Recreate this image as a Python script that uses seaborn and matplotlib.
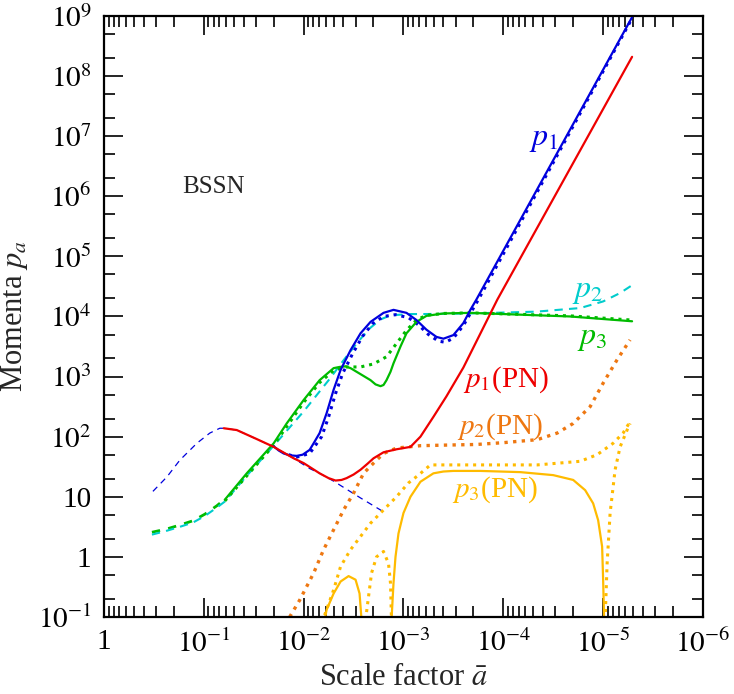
import numpy as np
import pandas as pd
import seaborn as sns
import matplotlib.pyplot as plt
from matplotlib.ticker import LogLocator, NullFormatter

# values, stored as log10(a) and log10(p)
# p1 (BSSN), solid blue
p1_loga = [-1.70, -1.75, -1.80, -1.86, -1.93, -1.99, -2.06, -2.10, -2.16, -2.23, -2.30, -2.37,
           -2.47, -2.57, -2.67, -2.80, -2.90, -3.03, -3.13, -3.23, -3.33, -3.40, -3.50, -3.60,
           -3.67, -3.73, -5.29]
p1_logp = [1.84, 1.77, 1.72, 1.69, 1.68, 1.70, 1.78, 1.89, 2.06, 2.39, 2.78, 3.11,
           3.44, 3.72, 3.91, 4.06, 4.11, 4.06, 3.94, 3.78, 3.66, 3.63, 3.69, 3.89,
           4.11, 4.28, 8.98]
# p1 second run, dotted blue
p1d_loga = [-1.85, -1.93, -2.06, -2.18, -2.25, -2.32, -2.39, -2.49, -2.59, -2.69, -2.80, -2.92,
            -3.05, -3.15, -3.25, -3.35, -3.42, -3.50, -3.60, -3.68, -3.75, -5.29]
p1d_logp = [1.70, 1.66, 1.72, 2.00, 2.33, 2.72, 3.05, 3.38, 3.67, 3.88, 4.00, 4.03,
            3.98, 3.86, 3.70, 3.59, 3.57, 3.64, 3.85, 4.08, 4.28, 8.96]
# thin dashed blue
p1i_loga = [-0.49, -0.63, -0.76, -0.93, -1.06, -1.16, -1.20, -1.33, -1.53, -1.70, -1.90,
            -2.06, -2.16, -2.30, -2.57, -2.82]
p1i_logp = [1.09, 1.33, 1.61, 1.89, 2.06, 2.14, 2.14, 2.11, 1.96, 1.83, 1.64,
            1.47, 1.39, 1.26, 0.98, 0.73]
# p1 (PN), solid red
p1pn_loga = [-1.20, -1.33, -1.53, -1.70, -1.90, -2.00, -2.16, -2.25, -2.32, -2.38, -2.43, -2.50,
             -2.57, -2.64, -2.70, -2.80, -2.93, -3.07, -3.17, -3.30, -3.43, -3.60, -3.94, -5.29]
p1pn_logp = [2.14, 2.11, 1.96, 1.83, 1.64, 1.56, 1.39, 1.31, 1.27, 1.28, 1.31, 1.37,
             1.45, 1.55, 1.64, 1.74, 1.79, 1.83, 2.00, 2.33, 2.67, 3.15, 4.28, 8.32]
# p2, dashed cyan
p2_loga = [-0.48, -0.62, -0.76, -0.89, -1.01, -1.13, -1.21, -1.43, -1.70, -2.00, -2.26, -2.39,
           -2.53, -2.66, -2.77, -2.87, -3.07, -3.20, -3.67, -4.33, -4.77, -5.00, -5.17, -5.29]
p2_logp = [0.37, 0.43, 0.50, 0.57, 0.68, 0.82, 0.92, 1.35, 1.85, 2.42, 2.96, 3.25,
           3.55, 3.80, 3.95, 4.02, 4.04, 4.04, 4.05, 4.08, 4.14, 4.25, 4.39, 4.52]
# p3 early part (dashed green) and solid green
p3e_loga = [-0.48, -0.62, -0.76, -0.89, -1.01, -1.13, -1.21]
p3e_logp = [0.41, 0.46, 0.53, 0.60, 0.71, 0.85, 0.96]
p3_loga = [-1.21, -1.43, -1.70, -1.83, -2.00, -2.16, -2.30, -2.36, -2.42, -2.47, -2.53, -2.60,
           -2.67, -2.72, -2.77, -2.80, -2.83, -2.87, -2.90, -2.97, -3.03, -3.13, -3.23, -3.40,
           -3.67, -4.67, -5.29]
p3_logp = [0.95, 1.39, 1.89, 2.22, 2.61, 2.94, 3.14, 3.16, 3.17, 3.14, 3.08, 3.01,
           2.94, 2.87, 2.84, 2.86, 2.94, 3.08, 3.22, 3.50, 3.72, 3.91, 4.01, 4.05,
           4.06, 4.00, 3.92]
# p3 second run, dotted green
p3d_loga = [-1.21, -1.70, -2.00, -2.16, -2.30, -2.42, -2.57, -2.70, -2.83, -2.93, -3.03, -3.13,
            -3.23, -3.40, -3.67, -4.67, -5.29]
p3d_logp = [0.93, 1.86, 2.57, 2.90, 3.10, 3.16, 3.16, 3.21, 3.33, 3.55, 3.77, 3.94,
            4.02, 4.05, 4.06, 4.01, 3.94]
# p2 (PN), dotted orange
p2pn_loga = [-1.86, -1.96, -2.10, -2.20, -2.30, -2.40, -2.50, -2.60, -2.70, -2.80, -2.93, -3.17,
             -3.43, -3.73, -4.00, -4.34, -4.54, -4.70, -4.87, -5.00, -5.14, -5.27]
p2pn_logp = [-1.00, -0.72, -0.27, 0.12, 0.45, 0.78, 1.06, 1.39, 1.56, 1.72, 1.81, 1.85,
             1.86, 1.87, 1.90, 1.95, 2.06, 2.22, 2.50, 2.89, 3.28, 3.61]
# p3 (PN), solid yellow (two branches)
p3pn_a_loga = [-2.21, -2.23, -2.30, -2.37, -2.45, -2.52, -2.56, -2.58]
p3pn_a_logp = [-1.05, -0.88, -0.61, -0.41, -0.32, -0.38, -0.61, -1.05]
p3pn_b_loga = [-2.88, -2.90, -2.92, -2.95, -3.00, -3.07, -3.17, -3.30, -3.40, -3.50, -3.77, -4.17,
               -4.50, -4.70, -4.82, -4.90, -4.95, -4.99, -5.00, -5.01]
p3pn_b_logp = [-1.05, -0.44, 0.00, 0.39, 0.73, 1.00, 1.25, 1.39, 1.42, 1.43, 1.43, 1.41,
               1.36, 1.28, 1.11, 0.89, 0.61, 0.17, -0.38, -1.05]
# p3 (PN) second run, dotted yellow (three branches)
p3pnd_a_loga = [-2.21, -2.30, -2.37, -2.47, -2.57, -2.67, -2.80, -2.93, -3.05, -3.15, -3.27,
                -3.77, -4.34, -4.77, -4.94, -5.10, -5.20, -5.27]
p3pnd_a_logp = [-0.97, -0.55, -0.16, 0.12, 0.34, 0.56, 0.78, 1.00, 1.23, 1.36, 1.53,
                1.53, 1.53, 1.59, 1.70, 1.89, 2.06, 2.25]
p3pnd_b_loga = [-2.62, -2.65, -2.68, -2.73, -2.80, -2.85, -2.87, -2.88]
p3pnd_b_logp = [-1.05, -0.66, -0.27, 0.00, 0.09, -0.11, -0.44, -1.05]
p3pnd_c_loga = [-5.02, -5.04, -5.07, -5.12, -5.17, -5.24, -5.27]
p3pnd_c_logp = [-1.05, -0.11, 0.73, 1.45, 1.83, 2.11, 2.22]

xtick_vals = [1, 1e-1, 1e-2, 1e-3, 1e-4, 1e-5, 1e-6]
xtick_labels = ["1", r"$10^{-1}$", r"$10^{-2}$", r"$10^{-3}$", r"$10^{-4}$", r"$10^{-5}$", r"$10^{-6}$"]
ytick_vals = [1e-1, 1, 10, 1e2, 1e3, 1e4, 1e5, 1e6, 1e7, 1e8, 1e9]
ytick_labels = [r"$10^{-1}$", "1", "10", r"$10^{2}$", r"$10^{3}$", r"$10^{4}$", r"$10^{5}$",
                r"$10^{6}$", r"$10^{7}$", r"$10^{8}$", r"$10^{9}$"]

BLUE = "#0000dd"
RED = "#ee0000"
GREEN = "#00bb00"
CYAN = "#00cccc"
ORANGE = "#ee7711"
YELLOW = "#ffbb00"
DOT = (0, (1, 1.6))

sns.set_theme(style="ticks")
plt.rcParams["font.family"] = ["Liberation Serif", "DejaVu Serif"]
plt.rcParams["mathtext.fontset"] = "stix"
plt.rcParams["xtick.direction"] = "in"
plt.rcParams["ytick.direction"] = "in"


def draw(ax, loga, logp, color, ls="-", lw=1.5):
    df = pd.DataFrame({"a": 10 ** np.array(loga), "p": 10 ** np.array(logp)})
    sns.lineplot(data=df, x="a", y="p", ax=ax, color=color, linestyle=ls,
                 linewidth=lw, sort=False, estimator=None)


fig = plt.figure(figsize=(7.34, 6.94), dpi=100)
ax = fig.add_axes([0.1417, 0.111, 0.816, 0.866])
ax.set_xscale("log")
ax.set_yscale("log")

draw(ax, p1i_loga, p1i_logp, BLUE, ls=(0, (5, 4)), lw=0.9)
draw(ax, p3e_loga, p3e_logp, GREEN, ls=(0, (3, 3)), lw=2.0)
draw(ax, p2_loga, p2_logp, CYAN, ls=(0, (4, 3)), lw=1.5)
draw(ax, p3d_loga, p3d_logp, GREEN, ls=DOT, lw=2.2)
draw(ax, p1d_loga, p1d_logp, BLUE, ls=DOT, lw=2.2)
draw(ax, p3_loga, p3_logp, GREEN, lw=1.6)
draw(ax, p1_loga, p1_logp, BLUE, lw=1.6)
draw(ax, p2pn_loga, p2pn_logp, ORANGE, ls=DOT, lw=2.4)
draw(ax, p3pnd_a_loga, p3pnd_a_logp, YELLOW, ls=DOT, lw=2.2)
draw(ax, p3pnd_b_loga, p3pnd_b_logp, YELLOW, ls=DOT, lw=2.2)
draw(ax, p3pnd_c_loga, p3pnd_c_logp, YELLOW, ls=DOT, lw=2.2)
draw(ax, p3pn_a_loga, p3pn_a_logp, YELLOW, lw=1.6)
draw(ax, p3pn_b_loga, p3pn_b_logp, YELLOW, lw=1.6)
draw(ax, p1pn_loga, p1pn_logp, RED, lw=1.6)

ax.set_xlim(1, 1e-6)
ax.set_ylim(1e-1, 1e9)

ax.set_xticks(xtick_vals)
ax.set_xticklabels(xtick_labels)
ax.set_yticks(ytick_vals)
ax.set_yticklabels(ytick_labels)
ax.xaxis.set_minor_locator(LogLocator(base=10, subs=np.arange(2, 10), numticks=100))
ax.yaxis.set_minor_locator(LogLocator(base=10, subs=[2, 5], numticks=100))
ax.xaxis.set_minor_formatter(NullFormatter())
ax.yaxis.set_minor_formatter(NullFormatter())
ax.tick_params(which="both", top=True, right=True, colors="black", width=1.2)
ax.tick_params(which="major", length=14, labelsize=21, pad=9)
ax.tick_params(which="minor", length=8)
for s in ax.spines.values():
    s.set_linewidth(1.6)
    s.set_color("black")

ax.set_xlabel(r"Scale factor $\bar{a}$", fontsize=22, labelpad=4)
ax.set_ylabel(r"Momenta $p_a$", fontsize=22, labelpad=6)

ax.text(10 ** -1.10, 10 ** 6.15, "BSSN", fontsize=18, ha="center", va="center")
ax.text(10 ** -4.40, 10 ** 6.94, r"$p_1$", fontsize=23, color=BLUE, ha="center", va="center")
ax.text(10 ** -4.84, 10 ** 4.42, r"$p_2$", fontsize=23, color=CYAN, ha="center", va="center")
ax.text(10 ** -4.89, 10 ** 3.64, r"$p_3$", fontsize=23, color=GREEN, ha="center", va="center")
ax.text(10 ** -3.60, 10 ** 2.94, r"$p_1$(PN)", fontsize=21, color=RED, ha="left", va="center")
ax.text(10 ** -3.54, 10 ** 2.16, r"$p_2$(PN)", fontsize=21, color=ORANGE, ha="left", va="center")
ax.text(10 ** -3.49, 10 ** 1.11, r"$p_3$(PN)", fontsize=21, color=YELLOW, ha="left", va="center")

fig.savefig("out.png", dpi=100, facecolor="white")
